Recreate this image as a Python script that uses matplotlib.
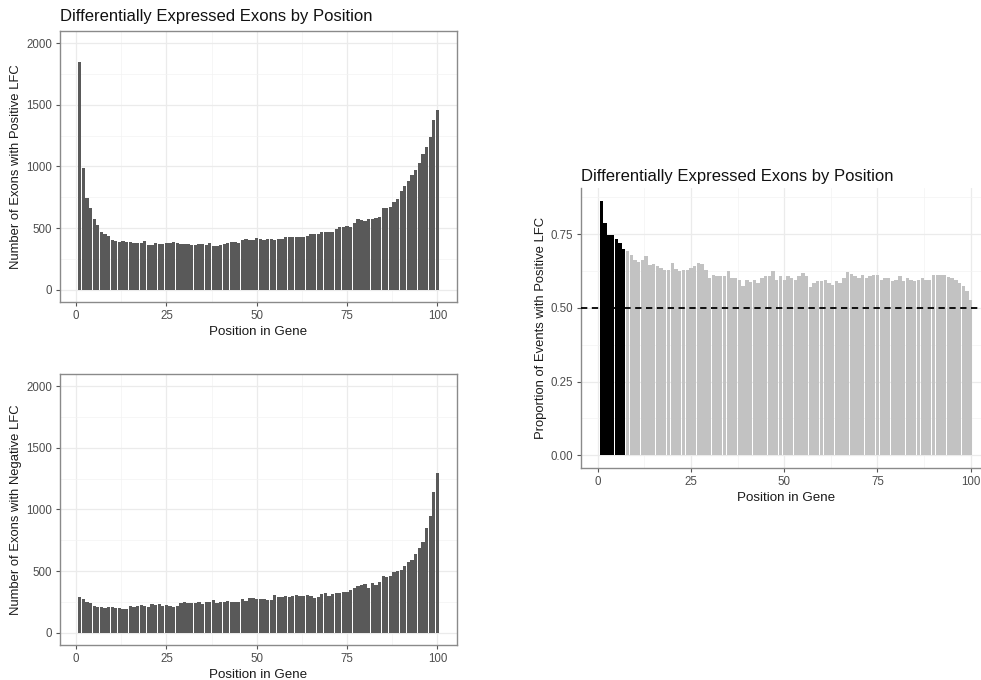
import numpy as np
import matplotlib
matplotlib.use("Agg")
import matplotlib.pyplot as plt

plt.rcParams['font.family'] = ['Liberation Sans', 'DejaVu Sans']

positions = np.arange(1, 101)

# counts of exons with positive LFC, by position
pos_counts = [
    1850, 985, 743, 661, 575, 521, 472, 450, 437, 405,
    392, 390, 392, 390, 385, 380, 380, 378, 395, 362,
    365, 375, 372, 370, 380, 378, 385, 375, 372, 368,
    368, 360, 365, 372, 370, 360, 378, 358, 358, 362,
    368, 378, 385, 390, 380, 405, 408, 405, 405, 420,
    410, 405, 410, 412, 405, 408, 415, 425, 425, 428,
    425, 430, 430, 432, 450, 450, 455, 465, 470, 470,
    470, 490, 505, 510, 520, 510, 540, 570, 565, 560,
    570, 575, 580, 590, 665, 665, 675, 710, 740, 800,
    840, 880, 930, 975, 1030, 1100, 1160, 1240, 1380, 1460,
]

# counts of exons with negative LFC, by position
neg_counts = [
    286, 270, 251, 238, 216, 210, 208, 200, 205, 208,
    200, 198, 195, 190, 215, 210, 218, 222, 215, 210,
    230, 225, 232, 220, 222, 215, 205, 215, 240, 245,
    238, 238, 240, 245, 235, 248, 250, 262, 240, 245,
    245, 260, 252, 245, 248, 272, 260, 278, 280, 270,
    275, 270, 268, 265, 305, 290, 288, 298, 290, 300,
    305, 295, 300, 305, 298, 280, 290, 310, 325, 300,
    315, 320, 325, 330, 330, 345, 365, 380, 390, 395,
    365, 400, 390, 410, 460, 455, 460, 490, 500, 510,
    540, 575, 590, 640, 690, 740, 850, 950, 1140, 1300,
]

# proportion of events with positive LFC
prop_pos = [
    0.864, 0.788, 0.749, 0.749, 0.735, 0.722, 0.700, 0.692, 0.681, 0.661,
    0.656, 0.664, 0.675, 0.647, 0.649, 0.641, 0.636, 0.630, 0.630, 0.653,
    0.633, 0.624, 0.630, 0.630, 0.636, 0.641, 0.653, 0.649, 0.630, 0.602,
    0.613, 0.607, 0.610, 0.607, 0.624, 0.602, 0.600, 0.596, 0.573, 0.596,
    0.587, 0.596, 0.585, 0.600, 0.607, 0.607, 0.624, 0.596, 0.610, 0.596,
    0.607, 0.600, 0.596, 0.607, 0.619, 0.610, 0.570, 0.585, 0.593, 0.593,
    0.596, 0.585, 0.579, 0.593, 0.585, 0.602, 0.622, 0.615, 0.607, 0.600,
    0.613, 0.602, 0.607, 0.613, 0.611, 0.596, 0.600, 0.600, 0.590, 0.596,
    0.607, 0.590, 0.600, 0.596, 0.593, 0.596, 0.600, 0.596, 0.596, 0.611,
    0.613, 0.611, 0.613, 0.604, 0.600, 0.596, 0.585, 0.573, 0.556, 0.528,
]
n_highlight = 7  # first positions drawn in black

title = "Differentially Expressed Exons by Position"


def style_axes(ax, show_top=True):
    ax.set_facecolor('white')
    ax.grid(which='major', color='#EBEBEB', linewidth=0.9, zorder=0)
    ax.grid(which='minor', color='#F3F3F3', linewidth=0.5, zorder=0)
    ax.set_axisbelow(True)
    for side, sp in ax.spines.items():
        sp.set_color('#8a8a8a')
        sp.set_linewidth(1.0)
    if not show_top:
        ax.spines['top'].set_visible(False)
    ax.tick_params(which='major', length=3, width=0.8, color='#555555',
                   labelsize=8.3, labelcolor='#4D4D4D', pad=2.5)
    ax.tick_params(which='minor', length=0)
    ax.set_xlim(-4.45, 105.45)
    ax.set_xticks([0, 25, 50, 75, 100])
    ax.set_xticks([12.5, 37.5, 62.5, 87.5], minor=True)


fig = plt.figure(figsize=(9.81, 6.8), dpi=100)

ax1 = fig.add_axes([0.0612, 0.5559, 0.4047, 0.3985])
ax2 = fig.add_axes([0.0612, 0.0515, 0.4047, 0.3985])
ax3 = fig.add_axes([0.5923, 0.3118, 0.418, 0.4118])

for ax, vals, lab in [(ax1, pos_counts, "Number of Exons with Positive LFC"),
                      (ax2, neg_counts, "Number of Exons with Negative LFC")]:
    style_axes(ax)
    ax.bar(positions, vals, width=0.9, color='#595959', zorder=2)
    ax.set_ylim(-100, 2100)
    ax.set_yticks([0, 500, 1000, 1500, 2000])
    ax.set_yticks([250, 750, 1250, 1750], minor=True)
    ax.set_ylabel(lab, fontsize=9.4, color='#1a1a1a', labelpad=3)
    ax.set_xlabel("Position in Gene", fontsize=9.6, color='#1a1a1a', labelpad=3)

ax1.set_title(title, loc='left', fontsize=12, color='#111111', pad=7)

style_axes(ax3, show_top=False)
bar_colors = ['black' if i < n_highlight else '#C2C2C2' for i in range(len(prop_pos))]
ax3.bar(positions, prop_pos, width=0.9, color=bar_colors, zorder=2)
ax3.axhline(0.5, color='black', linestyle=(0, (3.5, 2.5)), linewidth=1.3, zorder=3)
ax3.set_ylim(-0.0432, 0.9072)
ax3.set_yticks([0, 0.25, 0.5, 0.75])
ax3.set_yticklabels(['0.00', '0.25', '0.50', '0.75'])
ax3.set_yticks([0.125, 0.375, 0.625, 0.875], minor=True)
ax3.set_ylabel("Proportion of Events with Positive LFC", fontsize=9.4,
               color='#1a1a1a', labelpad=3)
ax3.set_xlabel("Position in Gene", fontsize=9.6, color='#1a1a1a', labelpad=3)
ax3.set_title(title, loc='left', fontsize=12, color='#111111', pad=5)

fig.savefig("out.png", dpi=100)
